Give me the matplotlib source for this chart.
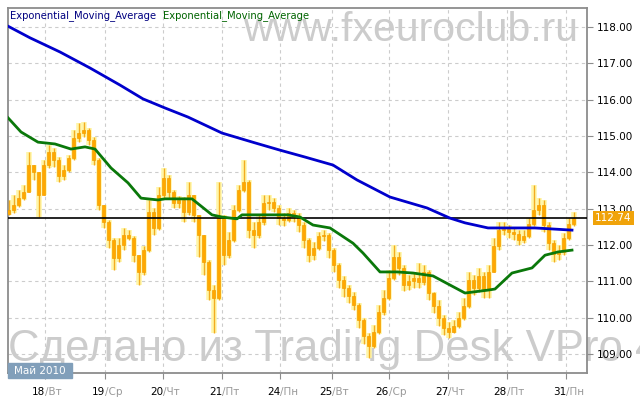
import numpy as np
import matplotlib.pyplot as plt
from matplotlib.patches import Rectangle
from matplotlib.transforms import blended_transform_factory

# USD/JPY-like price, 2-hour candles, 17-31 May 2010
close = [
    112.96, 113.10, 113.29, 113.46, 114.20, 114.01, 113.38, 114.20, 114.56, 114.34,
    113.90, 114.06, 114.39, 114.94, 115.08, 115.16, 114.89, 114.34, 113.10, 112.63,
    112.14, 111.64, 112.00, 112.27, 112.19, 111.72, 111.26, 111.86, 112.91, 112.47,
    113.38, 113.84, 113.46, 113.16, 113.24, 112.91, 113.38, 112.83, 112.27, 111.53,
    110.76, 110.54, 112.74, 111.72, 112.14, 112.96, 113.51, 113.73, 112.41, 112.27,
    112.63, 113.16, 113.18, 113.02, 112.74, 112.69, 112.88, 112.80, 112.55, 112.14,
    111.72, 111.92, 112.25, 112.27, 111.86, 111.45, 111.04, 110.82, 110.60, 110.35,
    109.94, 109.49, 109.22, 109.60, 110.16, 110.54, 111.09, 111.67, 111.37, 110.90,
    111.01, 111.09, 110.98, 111.26, 110.68, 110.32, 109.99, 109.71, 109.60, 109.77,
    109.99, 110.32, 111.04, 110.82, 111.15, 110.76, 111.26, 111.97, 112.41, 112.44,
    112.36, 112.30, 112.14, 112.25, 112.58, 112.96, 113.10, 112.55, 112.05, 111.75,
    111.81, 112.19, 112.58, 112.74]
high = [
    113.24, 113.38, 113.51, 113.65, 114.56, 114.20, 113.65, 114.34, 114.75, 114.67,
    114.42, 114.20, 114.48, 115.16, 115.36, 115.38, 115.22, 114.97, 114.39, 113.10,
    112.69, 112.19, 112.19, 112.47, 112.41, 112.25, 111.72, 111.97, 113.24, 113.02,
    113.59, 114.12, 113.93, 113.51, 113.35, 113.32, 113.73, 113.38, 112.83, 112.27,
    111.59, 110.90, 113.73, 112.83, 112.36, 113.10, 113.65, 114.34, 113.79, 112.63,
    112.83, 113.38, 113.38, 113.29, 113.10, 112.88, 113.02, 112.96, 112.88, 112.63,
    112.19, 112.08, 112.36, 112.41, 112.33, 111.92, 111.50, 111.15, 110.90, 110.71,
    110.40, 109.99, 109.58, 109.80, 110.35, 110.76, 111.31, 112.00, 111.81, 111.45,
    111.17, 111.26, 111.50, 111.45, 111.31, 110.71, 110.49, 110.07, 109.88, 109.94,
    110.16, 110.54, 111.26, 111.17, 111.37, 111.26, 111.45, 112.19, 112.63, 112.63,
    112.55, 112.47, 112.41, 112.41, 112.74, 113.65, 113.29, 113.24, 112.63, 112.14,
    112.00, 112.33, 112.74, 112.91]
low = [
    112.83, 112.88, 113.05, 113.24, 113.65, 113.79, 112.77, 113.65, 114.12, 114.15,
    113.73, 113.79, 114.01, 114.34, 114.83, 114.97, 114.75, 114.20, 112.96, 112.47,
    111.92, 111.31, 111.53, 111.86, 112.14, 111.53, 110.90, 111.17, 111.81, 112.27,
    112.41, 113.29, 113.29, 113.02, 113.02, 112.63, 112.83, 112.63, 111.67, 111.17,
    110.49, 109.58, 110.49, 111.45, 111.64, 112.08, 112.91, 113.46, 112.19, 111.92,
    112.19, 112.55, 112.96, 112.91, 112.55, 112.52, 112.63, 112.63, 112.36, 111.92,
    111.53, 111.59, 111.86, 112.11, 111.64, 111.26, 110.82, 110.57, 110.40, 110.21,
    109.71, 109.27, 108.89, 109.17, 109.55, 110.07, 110.49, 111.04, 111.17, 110.73,
    110.76, 110.82, 110.82, 110.90, 110.49, 110.13, 109.77, 109.52, 109.44, 109.58,
    109.71, 109.94, 110.27, 110.62, 110.71, 110.54, 110.54, 111.26, 111.86, 112.27,
    112.19, 112.14, 112.00, 112.05, 112.19, 112.52, 112.83, 112.36, 111.86, 111.53,
    111.59, 111.72, 112.14, 112.52]
first_open = 112.85

# EMA lines (bar index / price)
ema_slow_x = [-0.1, 4.3, 10.3, 16.3, 22.3, 26.9, 31.3, 35.9, 42.7, 49.3, 54.3,
              59.3, 64.9, 69.7, 76.3, 83.7, 88.3, 91.3, 95.9, 105.3, 112.7]
ema_slow = [118.02, 117.70, 117.31, 116.87, 116.40, 116.02, 115.77, 115.52, 115.08, 114.81, 114.61,
            114.42, 114.20, 113.79, 113.32, 113.02, 112.74, 112.61, 112.47, 112.47, 112.41]
ema_fast_x = [-0.1, 2.5, 5.9, 9.3, 12.5, 15.3, 17.3, 20.5, 23.9, 26.5, 29.9, 31.3, 36.7,
              40.7, 42.7, 45.7, 46.7, 52.7, 55.9, 58.3, 60.9, 64.3, 68.9, 70.9, 74.3,
              77.7, 80.9, 84.9, 88.3, 91.3, 95.9, 97.3, 100.7, 104.7, 107.3, 109.9, 112.7]
ema_fast = [115.50, 115.11, 114.83, 114.78, 114.64, 114.70, 114.64, 114.12, 113.71, 113.29, 113.24, 113.27, 113.27,
            112.83, 112.77, 112.72, 112.83, 112.83, 112.83, 112.77, 112.55, 112.47, 112.05, 111.78, 111.26,
            111.26, 111.23, 111.15, 110.90, 110.68, 110.76, 110.79, 111.23, 111.37, 111.72, 111.81, 111.86]

day_pos = [7.3, 19.3, 30.9, 42.7, 54.3, 64.7, 76.1, 87.9, 99.7, 111.5]
day_num = ['18', '19', '20', '21', '24', '25', '26', '27', '28', '31']
day_name = ['Вт', 'Ср', 'Чт', 'Пт', 'Пн', 'Вт', 'Ср', 'Чт', 'Пт', 'Пн']
price_ticks = [109, 110, 111, 112, 113, 114, 115, 116, 117, 118]
last_price = 112.74

W, H = 640, 404
fig = plt.figure(figsize=(6.4, 4.04), dpi=100, facecolor='white')
ax = fig.add_axes([8 / W, 1 - 373 / H, 579 / W, 365 / H])
ax.set_facecolor('none')

# watermarks (behind everything)
fig.text(243 / W, 1 - 30 / H, 'www.fxeuroclub.ru', fontsize=29.5, color='#CCCCCC',
         family='Liberation Sans', va='center', ha='left', zorder=-1)
fig.text(8 / W, 1 - 349 / H, 'Сделано из Trading Desk VPro 4', fontsize=31.5, color='#CCCCCC',
         family='Liberation Sans', va='center', ha='left', zorder=-1)

# candles
x = np.arange(len(close))
c = np.array(close)
o = np.r_[first_open, c[:-1]]
hi = np.maximum(np.array(high), np.maximum(o, c))
lo = np.minimum(np.array(low), np.minimum(o, c))
ax.vlines(x, lo, hi, color='#FFF6A8', lw=4, zorder=2)
ax.vlines(x, lo, hi, color='#F2AC20', lw=1, zorder=3)
body_lo = np.minimum(o, c)
body_h = np.maximum(np.abs(c - o), 0.02)
ax.bar(x, body_h, bottom=body_lo, width=0.55, color='#FFA800',
       edgecolor='#F5A000', lw=0.5, zorder=3.5)

ax.axhline(last_price, color='black', lw=1.2, zorder=4)
ax.plot(ema_slow_x, ema_slow, color='#0000CC', lw=2, zorder=5)
ax.plot(ema_fast_x, ema_fast, color='#0A780A', lw=2, zorder=5)

ax.set_xlim(-0.1, 115.7)
ax.set_ylim(108.48, 118.52)

# grid
ax.set_yticks(price_ticks)
ax.set_xticks(day_pos)
ax.grid(True, color='#CCCCCC', lw=0.8, linestyle=(0, (3, 3)), zorder=1)
ax.set_axisbelow(True)

for s in ax.spines.values():
    s.set_color('#8C8C8C')
    s.set_linewidth(1.3)

ax.yaxis.tick_right()
ax.set_yticklabels([f'{v:.2f}' for v in price_ticks])
ax.tick_params(axis='y', labelsize=7.5, length=4, color='#8C8C8C', pad=3, labelcolor='black')
ax.tick_params(axis='x', length=4, color='#8C8C8C', labelbottom=False)

tr = blended_transform_factory(ax.transData, ax.transAxes)
for p, n, d in zip(day_pos, day_num, day_name):
    ax.text(p, -0.052, n, transform=tr, ha='right', va='center', fontsize=7.5, color='black')
    ax.text(p, -0.052, '/' + d, transform=tr, ha='left', va='center', fontsize=7.5, color='#999999')

# last price label
tr2 = blended_transform_factory(ax.transAxes, ax.transData)
ax.text(1.014, last_price, f'{last_price:.2f}', transform=tr2, ha='left', va='center',
        fontsize=7.5, color='white', clip_on=False, zorder=10,
        bbox=dict(boxstyle='square,pad=0.2', fc='#F0A30A', ec='none'))

# legend texts
fig.text(10 / W, 1 - 15.5 / H, 'Exponential_Moving_Average', fontsize=7.2, color='#000080',
         va='center', ha='left')
fig.text(163 / W, 1 - 15.5 / H, 'Exponential_Moving_Average', fontsize=7.2, color='#006400',
         va='center', ha='left')

# month box
fig.patches.append(Rectangle((8 / W, 1 - 378 / H), 64 / W, 15 / H, transform=fig.transFigure,
                             color='#819FBA', zorder=5))
fig.text(40 / W, 1 - 370.5 / H, 'Май 2010', ha='center', va='center', fontsize=7.5,
         color='white', zorder=6)

fig.savefig('out.png', dpi=100, facecolor='white')
